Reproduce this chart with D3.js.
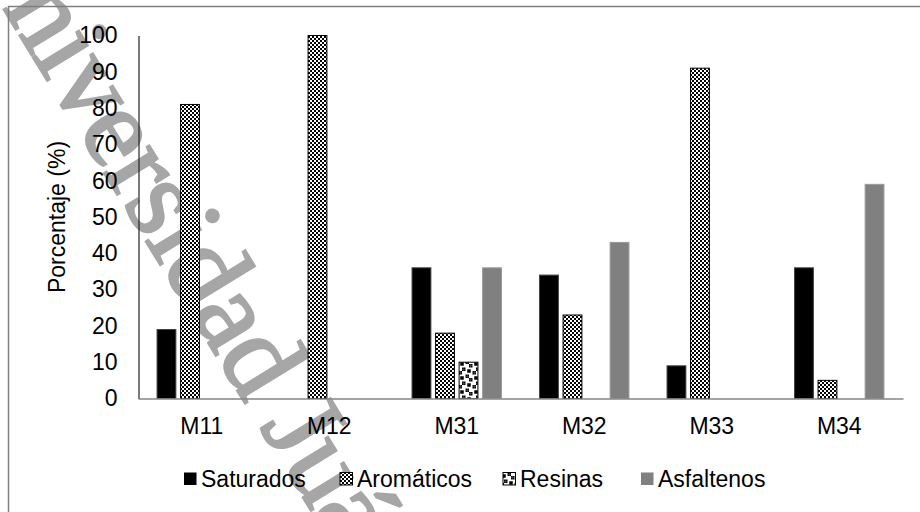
<!DOCTYPE html>
<html><head><meta charset="utf-8">
<script src="https://cdn.jsdelivr.net/npm/d3@7"></script>
<style>html,body{margin:0;padding:0;background:#fff;}svg{display:block;}</style>
</head><body>
<svg id="c" width="920" height="512"></svg>
<script>
const categories = ["M11","M12","M31","M32","M33","M34"];
const seriesNames = ["Saturados","Aromáticos","Resinas","Asfaltenos"];
const saturados  = [19, 0, 36, 34, 9, 36];
const aromaticos = [81, 100, 18, 23, 91, 5];
const resinas    = [0, 0, 10, 0, 0, 0];
const asfaltenos = [0, 0, 36, 43, 0, 59];
const yTicks = [0,10,20,30,40,50,60,70,80,90,100];
const yTitle = "Porcentaje (%)";
const watermark = "Universidad Juárez Autónoma de Tabasco";

const seriesValues = [saturados, aromaticos, resinas, asfaltenos];

const svg = d3.select("#c");
const defs = svg.append("defs");

// checkerboard pattern
const chk = defs.append("pattern").attr("id","chk").attr("patternUnits","userSpaceOnUse")
  .attr("width",4).attr("height",4);
chk.append("rect").attr("width",4).attr("height",4).attr("fill","#fff");
chk.append("rect").attr("x",0).attr("y",0).attr("width",2).attr("height",2).attr("fill","#000");
chk.append("rect").attr("x",2).attr("y",2).attr("width",2).attr("height",2).attr("fill","#000");

// large confetti pattern
const confBits = [0x8d,0x0c,0xc0,0xd8,0x1b,0x03,0x30,0xb1];
const cs = 1.75;
const conf = defs.append("pattern").attr("id","conf").attr("patternUnits","userSpaceOnUse")
  .attr("width",8*cs).attr("height",8*cs);
conf.append("rect").attr("width",8*cs).attr("height",8*cs).attr("fill","#fff");
confBits.forEach((b,r)=>{
  for(let c=0;c<8;c++){
    if(b & (0x80>>c)) conf.append("rect").attr("x",c*cs).attr("y",r*cs).attr("width",cs).attr("height",cs).attr("fill","#000");
  }
});

const fills = ["#000","url(#chk)","url(#conf)","#808080"];
const strokes = ["#404040","#000","#000","#9a9a9a"];

// watermark
svg.append("text")
  .attr("transform","translate(-40,-62) rotate(58.5)")
  .attr("font-family","Liberation Serif, serif")
  .attr("font-size",115)
  .attr("letter-spacing",-1.5)
  .attr("fill","#a6a6a6")
  .attr("stroke","#a6a6a6")
  .attr("stroke-width",2.5)
  .text(watermark);

// frame
svg.append("line").attr("x1",8).attr("x2",920).attr("y1",6.5).attr("y2",6.5).attr("stroke","#7f7f7f").attr("stroke-width",1.5);
svg.append("line").attr("x1",8.5).attr("x2",8.5).attr("y1",6).attr("y2",512).attr("stroke","#7f7f7f").attr("stroke-width",1.5);

const x0 = d3.scaleBand().domain(categories).range([138,903]).padding(0);
const x1 = d3.scaleBand().domain(seriesNames).range([0,x0.bandwidth()]).paddingInner(0.2).paddingOuter(0.81);
const y = d3.scaleLinear().domain([0,100]).range([398.5,35.5]);

const font = "Liberation Sans, Arial, sans-serif";

// bars
seriesNames.forEach((s,si)=>{
  svg.append("g").selectAll("rect").data(categories.map((c,i)=>({c,v:seriesValues[si][i]})).filter(d=>d.v>0))
    .join("rect")
    .attr("x",d=>x0(d.c)+x1(s))
    .attr("y",d=>y(d.v))
    .attr("width",x1.bandwidth())
    .attr("height",d=>y(0)-y(d.v))
    .attr("fill",fills[si])
    .attr("stroke",strokes[si])
    .attr("stroke-width",1);
});

// y axis
const yAxis = d3.axisLeft(y).tickValues(yTicks).tickSize(0).tickPadding(21);
const gy = svg.append("g").attr("transform","translate(138.5,0)").call(yAxis);
gy.select(".domain").attr("stroke","#222").attr("stroke-width",1.2);
gy.selectAll("text").attr("font-family",font).attr("font-size",23).attr("fill","#000");

// x axis
const xAxis = d3.axisBottom(x0).tickSize(0).tickPadding(19);
const gx = svg.append("g").attr("transform","translate(0,398.5)").call(xAxis);
gx.select(".domain").attr("stroke","#868686").attr("stroke-width",1.5);
gx.selectAll("text").attr("font-family",font).attr("font-size",23).attr("fill","#000");

// y title
svg.append("text").attr("transform","translate(65,217) rotate(-90)")
  .attr("text-anchor","middle").attr("font-family",font).attr("font-size",23).attr("fill","#000")
  .text(yTitle);

// legend
const legX = [184, 340, 503, 641];
const lg = svg.append("g");
seriesNames.forEach((s,i)=>{
  lg.append("rect").attr("x",legX[i]).attr("y",472.5).attr("width",12.5).attr("height",12.5)
    .attr("fill",fills[i]).attr("stroke",i===1||i===2?"#000":"none").attr("stroke-width",1);
  lg.append("text").attr("x",legX[i]+17).attr("y",487).attr("font-family",font).attr("font-size",23).attr("fill","#000").text(s);
});
</script>
</body></html>
